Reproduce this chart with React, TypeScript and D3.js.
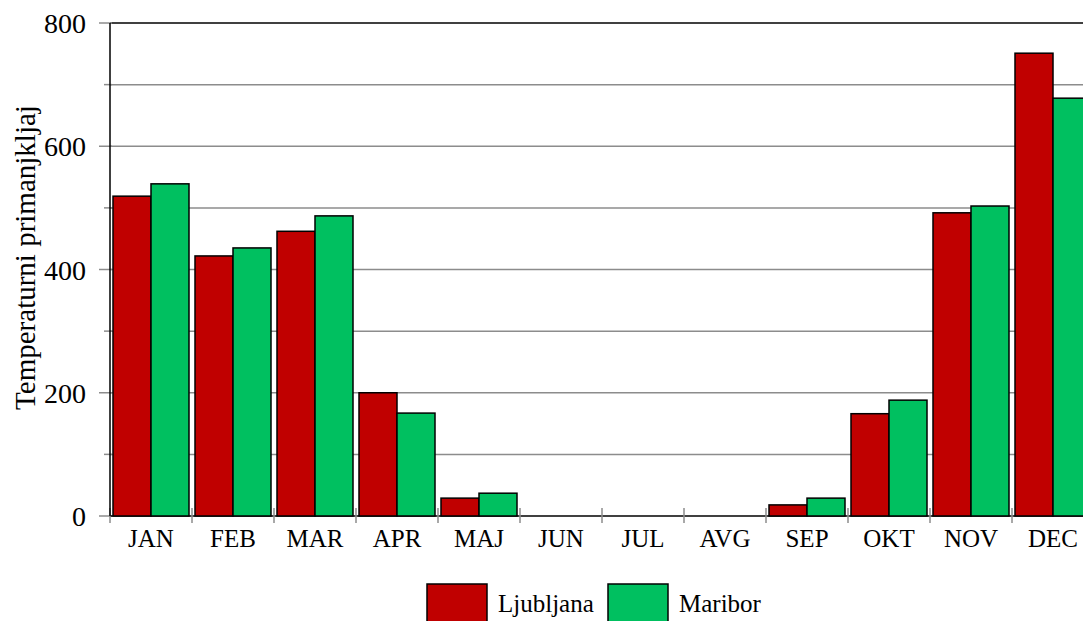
import React from "react";
import * as d3 from "d3";

const months = ["JAN", "FEB", "MAR", "APR", "MAJ", "JUN", "JUL", "AVG", "SEP", "OKT", "NOV", "DEC"];
const seriesNames = ["Ljubljana", "Maribor"];
const ljubljana = [519, 422, 462, 200, 29, 0, 0, 0, 18, 166, 492, 751];
const maribor = [539, 435, 487, 167, 37, 0, 0, 0, 29, 188, 503, 678];
const seriesColors = ["#C00000", "#00C060"];
const yTicks = [0, 200, 400, 600, 800];
const yGrid = [100, 200, 300, 400, 500, 600, 700];
const yMinor = [100, 300, 500, 700];
const yTitle = "Temperaturni primanjkljaj";

const W = 1083;
const H = 621;
const left = 110;
const top = 23;
const bottom = 516;
const bandW = 82;
const font = "'Liberation Serif', 'Times New Roman', serif";

export default function App() {
  const x0 = d3.scaleBand<string>().domain(months).range([left, left + bandW * months.length]).padding(0);
  const x1 = d3.scaleBand<string>().domain(seriesNames).range([3, bandW - 3]).padding(0);
  const y = d3.scaleLinear().domain([0, 800]).range([bottom, top]);
  const values = [ljubljana, maribor];
  const right = left + bandW * months.length;
  const boundaries = d3.range(months.length + 1).map((i) => left + i * x0.step());

  return (
    <svg width={W} height={H} style={{ position: "absolute", left: 0, top: 0, background: "#fff" }}>
      <rect x={0} y={0} width={W} height={H} fill="#fff" />
      {yGrid.map((v) => (
        <line key={"g" + v} x1={left} x2={right} y1={y(v)} y2={y(v)} stroke="#8c8c8c" strokeWidth={1.5} />
      ))}
      <line x1={left} x2={right} y1={y(800)} y2={y(800)} stroke="#000" strokeWidth={1.5} />
      {yTicks.map((v) => (
        <line key={"t" + v} x1={99} x2={112} y1={y(v)} y2={y(v)} stroke="#8c8c8c" strokeWidth={1.5} />
      ))}
      {yMinor.map((v) => (
        <line key={"m" + v} x1={104} x2={112} y1={y(v)} y2={y(v)} stroke="#8c8c8c" strokeWidth={1.5} />
      ))}
      {yTicks.map((v) => (
        <text key={"l" + v} x={86} y={y(v) + 10} textAnchor="end" fontFamily={font} fontSize={28} fill="#000">
          {v}
        </text>
      ))}
      <line x1={left} x2={right} y1={bottom} y2={bottom} stroke="#000" strokeWidth={1.5} />
      {boundaries.map((bx, i) => (
        <line key={"xb" + i} x1={bx} x2={bx} y1={508} y2={523} stroke="#8c8c8c" strokeWidth={1.5} />
      ))}
      {months.map((m, i) => (
        <g key={m}>
          {values.map((vals, s) => (
            <rect
              key={s}
              x={(x0(m) as number) + (x1(seriesNames[s]) as number)}
              y={y(vals[i])}
              width={x1.bandwidth()}
              height={bottom - y(vals[i])}
              fill={seriesColors[s]}
              stroke="#000"
              strokeWidth={1.5}
              style={{ display: vals[i] > 0 ? undefined : "none" }}
            />
          ))}
          <text
            x={(x0(m) as number) + x0.bandwidth() / 2}
            y={547}
            textAnchor="middle"
            fontFamily={font}
            fontSize={25}
            fill="#000"
          >
            {m}
          </text>
        </g>
      ))}
      <line x1={left} x2={left} y1={top} y2={bottom} stroke="#000" strokeWidth={1.5} />
      <text
        transform={`translate(35, ${(top + bottom) / 2 - 12}) rotate(-90)`}
        textAnchor="middle"
        fontFamily={font}
        fontSize={29}
        fill="#000"
      >
        {yTitle}
      </text>
      {seriesNames.map((name, s) => {
        const lx = [427, 608][s];
        return (
          <g key={name}>
            <rect x={lx} y={584} width={60} height={42} fill={seriesColors[s]} stroke="#000" strokeWidth={1.5} />
            <text x={lx + 71} y={612} fontFamily={font} fontSize={25} fill="#000">
              {name}
            </text>
          </g>
        );
      })}
    </svg>
  );
}
